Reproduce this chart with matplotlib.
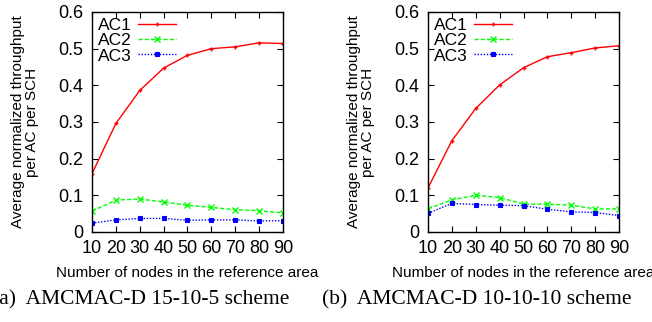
import matplotlib
matplotlib.use("Agg")
import matplotlib.pyplot as plt
from matplotlib.ticker import FixedLocator, FixedFormatter

nodes = [10, 20, 30, 40, 50, 60, 70, 80, 90]
a_ac1 = [0.159, 0.296, 0.386, 0.447, 0.482, 0.500, 0.505, 0.516, 0.514]
a_ac2 = [0.057, 0.087, 0.090, 0.082, 0.073, 0.067, 0.061, 0.058, 0.052]
a_ac3 = [0.024, 0.033, 0.037, 0.037, 0.032, 0.033, 0.033, 0.030, 0.031]
b_ac1 = [0.120, 0.249, 0.337, 0.401, 0.448, 0.478, 0.489, 0.502, 0.508]
b_ac2 = [0.063, 0.088, 0.100, 0.094, 0.076, 0.076, 0.073, 0.063, 0.063]
b_ac3 = [0.051, 0.078, 0.075, 0.073, 0.072, 0.062, 0.055, 0.053, 0.045]
series_names = ["AC1", "AC2", "AC3"]
yticks = [0, 0.1, 0.2, 0.3, 0.4, 0.5, 0.6]
ytick_labels = ["0", "0.1", "0.2", "0.3", "0.4", "0.5", "0.6"]
xlabel = "Number of nodes in the reference area"
ylabel = "Average normalized throughput\nper AC per SCH"
captions = ["(a)  AMCMAC-D 15-10-5 scheme", "(b)  AMCMAC-D 10-10-10 scheme"]

plt.rcParams['font.family'] = ['Liberation Sans', 'DejaVu Sans']

fig = plt.figure(figsize=(6.52, 3.22), dpi=100)
W, H = 652, 322
axes_px = [(92, 283), (428, 619)]
top_px, bot_px = 12, 232

styles = [
    dict(color="#ff0000", linestyle="-", marker="+", markersize=3.5, markeredgewidth=1),
    dict(color="#00ff00", linestyle=(0, (3, 1.5)), marker="x", markersize=4, markeredgewidth=1),
    dict(color="#0000ff", linestyle=(0, (1, 1.2)), marker="s", markersize=3.5, markeredgewidth=0.8),
]

data = [(a_ac1, a_ac2, a_ac3), (b_ac1, b_ac2, b_ac3)]

for i, (l, r) in enumerate(axes_px):
    ax = fig.add_axes([l / W, (H - bot_px) / H, (r - l) / W, (bot_px - top_px) / H])
    for name, vals, st in zip(series_names, data[i], styles):
        ax.plot(nodes, vals, label=name, linewidth=1, **st)
    ax.set_xlim(10, 90)
    ax.set_ylim(0, 0.6)
    ax.xaxis.set_major_locator(FixedLocator(nodes))
    ax.set_xticklabels([str(n) for n in nodes])
    ax.yaxis.set_major_locator(FixedLocator(yticks))
    ax.yaxis.set_major_formatter(FixedFormatter(ytick_labels))
    ax.tick_params(direction="in", top=True, right=True, length=4, width=0.8,
                   labelsize=13, pad=6)
    for s in ax.spines.values():
        s.set_linewidth(1)
    ax.set_xlabel(xlabel, fontsize=11, labelpad=6)
    ax.set_ylabel(ylabel, fontsize=11, labelpad=14, linespacing=1.0)
    ax.legend(loc="upper left", markerfirst=False, frameon=False, fontsize=12.5,
              handlelength=2.2, handletextpad=0.35, labelspacing=0.0,
              borderaxespad=0.15, borderpad=0.2)
    cx = [141, 477][i]
    fig.text(cx / W, 1 - 300 / H, captions[i], ha="center", va="center",
             fontsize=15.5, family=["Liberation Serif", "DejaVu Serif"])

fig.savefig("out.png", dpi=100)
